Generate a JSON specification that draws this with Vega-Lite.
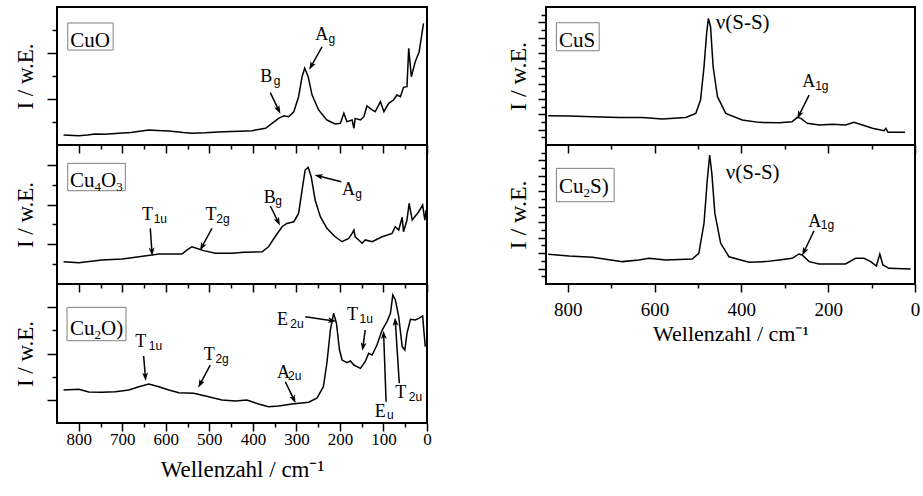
{
"$schema": "https://vega.github.io/schema/vega-lite/v6.json",
"background": "white",
"padding": {"left": 13, "top": 6, "right": 0, "bottom": 0},
"spacing": 72,
"config": {
 "view": {"stroke": "black", "strokeWidth": 2},
 "axis": {"domain": false, "grid": false, "tickColor": "black", "tickWidth": 1.5, "labelFont": "Liberation Serif", "titleFont": "Liberation Serif", "labelColor": "black", "titleColor": "black", "titleFontWeight": "normal", "labelFlush": false},
 "text": {"font": "Liberation Serif", "color": "black", "align": "left", "baseline": "alphabetic"}
},
"datasets": {
 "spec": [
  {"p":"CuO","w":835,"v":0.072},{"p":"CuO","w":800,"v":0.067},{"p":"CuO","w":780,"v":0.072},{"p":"CuO","w":762,"v":0.08},{"p":"CuO","w":740,"v":0.078},{"p":"CuO","w":708,"v":0.085},{"p":"CuO","w":680,"v":0.09},{"p":"CuO","w":660,"v":0.1},{"p":"CuO","w":639,"v":0.109},{"p":"CuO","w":620,"v":0.105},{"p":"CuO","w":593,"v":0.101},{"p":"CuO","w":560,"v":0.09},{"p":"CuO","w":540,"v":0.085},{"p":"CuO","w":510,"v":0.088},{"p":"CuO","w":479,"v":0.094},{"p":"CuO","w":450,"v":0.097},{"p":"CuO","w":430,"v":0.1},{"p":"CuO","w":402,"v":0.104},{"p":"CuO","w":371,"v":0.121},{"p":"CuO","w":356,"v":0.157},{"p":"CuO","w":341,"v":0.193},{"p":"CuO","w":329,"v":0.212},{"p":"CuO","w":318,"v":0.205},{"p":"CuO","w":306,"v":0.241},{"p":"CuO","w":295,"v":0.35},{"p":"CuO","w":287,"v":0.495},{"p":"CuO","w":281,"v":0.556},{"p":"CuO","w":273,"v":0.495},{"p":"CuO","w":264,"v":0.362},{"p":"CuO","w":249,"v":0.254},{"p":"CuO","w":230,"v":0.181},{"p":"CuO","w":211,"v":0.152},{"p":"CuO","w":199,"v":0.157},{"p":"CuO","w":191,"v":0.23},{"p":"CuO","w":184,"v":0.169},{"p":"CuO","w":172,"v":0.181},{"p":"CuO","w":168,"v":0.121},{"p":"CuO","w":165,"v":0.193},{"p":"CuO","w":153,"v":0.181},{"p":"CuO","w":145,"v":0.205},{"p":"CuO","w":138,"v":0.283},{"p":"CuO","w":126,"v":0.254},{"p":"CuO","w":119,"v":0.241},{"p":"CuO","w":107,"v":0.314},{"p":"CuO","w":99,"v":0.241},{"p":"CuO","w":88,"v":0.302},{"p":"CuO","w":77,"v":0.326},{"p":"CuO","w":69,"v":0.362},{"p":"CuO","w":61,"v":0.35},{"p":"CuO","w":54,"v":0.418},{"p":"CuO","w":46,"v":0.423},{"p":"CuO","w":42,"v":0.7},{"p":"CuO","w":36,"v":0.495},{"p":"CuO","w":27,"v":0.604},{"p":"CuO","w":18,"v":0.676},{"p":"CuO","w":8,"v":0.882},
  {"p":"Cu4O3","w":835,"v":0.16},{"p":"Cu4O3","w":800,"v":0.153},{"p":"Cu4O3","w":747,"v":0.173},{"p":"Cu4O3","w":700,"v":0.18},{"p":"Cu4O3","w":670,"v":0.192},{"p":"Cu4O3","w":632,"v":0.209},{"p":"Cu4O3","w":616,"v":0.216},{"p":"Cu4O3","w":563,"v":0.216},{"p":"Cu4O3","w":551,"v":0.245},{"p":"Cu4O3","w":540,"v":0.268},{"p":"Cu4O3","w":528,"v":0.256},{"p":"Cu4O3","w":513,"v":0.24},{"p":"Cu4O3","w":486,"v":0.221},{"p":"Cu4O3","w":448,"v":0.221},{"p":"Cu4O3","w":420,"v":0.228},{"p":"Cu4O3","w":379,"v":0.232},{"p":"Cu4O3","w":364,"v":0.268},{"p":"Cu4O3","w":349,"v":0.34},{"p":"Cu4O3","w":333,"v":0.412},{"p":"Cu4O3","w":322,"v":0.436},{"p":"Cu4O3","w":306,"v":0.448},{"p":"Cu4O3","w":295,"v":0.508},{"p":"Cu4O3","w":287,"v":0.676},{"p":"Cu4O3","w":280,"v":0.82},{"p":"Cu4O3","w":273,"v":0.839},{"p":"Cu4O3","w":266,"v":0.772},{"p":"Cu4O3","w":257,"v":0.604},{"p":"Cu4O3","w":245,"v":0.484},{"p":"Cu4O3","w":230,"v":0.4},{"p":"Cu4O3","w":211,"v":0.34},{"p":"Cu4O3","w":195,"v":0.304},{"p":"Cu4O3","w":180,"v":0.328},{"p":"Cu4O3","w":172,"v":0.364},{"p":"Cu4O3","w":168,"v":0.388},{"p":"Cu4O3","w":165,"v":0.34},{"p":"Cu4O3","w":157,"v":0.317},{"p":"Cu4O3","w":149,"v":0.293},{"p":"Cu4O3","w":142,"v":0.317},{"p":"Cu4O3","w":126,"v":0.304},{"p":"Cu4O3","w":103,"v":0.34},{"p":"Cu4O3","w":80,"v":0.364},{"p":"Cu4O3","w":73,"v":0.412},{"p":"Cu4O3","w":65,"v":0.388},{"p":"Cu4O3","w":57,"v":0.48},{"p":"Cu4O3","w":54,"v":0.376},{"p":"Cu4O3","w":46,"v":0.46},{"p":"Cu4O3","w":41,"v":0.58},{"p":"Cu4O3","w":34,"v":0.46},{"p":"Cu4O3","w":19,"v":0.52},{"p":"Cu4O3","w":10,"v":0.568},{"p":"Cu4O3","w":5,"v":0.46},{"p":"Cu4O3","w":2,"v":0.532},
  {"p":"Cu2O","w":835,"v":0.237},{"p":"Cu2O","w":800,"v":0.242},{"p":"Cu2O","w":777,"v":0.223},{"p":"Cu2O","w":747,"v":0.221},{"p":"Cu2O","w":716,"v":0.225},{"p":"Cu2O","w":685,"v":0.237},{"p":"Cu2O","w":662,"v":0.261},{"p":"Cu2O","w":639,"v":0.281},{"p":"Cu2O","w":616,"v":0.261},{"p":"Cu2O","w":593,"v":0.237},{"p":"Cu2O","w":570,"v":0.218},{"p":"Cu2O","w":536,"v":0.214},{"p":"Cu2O","w":509,"v":0.194},{"p":"Cu2O","w":471,"v":0.165},{"p":"Cu2O","w":440,"v":0.158},{"p":"Cu2O","w":414,"v":0.165},{"p":"Cu2O","w":387,"v":0.137},{"p":"Cu2O","w":364,"v":0.117},{"p":"Cu2O","w":341,"v":0.122},{"p":"Cu2O","w":310,"v":0.137},{"p":"Cu2O","w":272,"v":0.149},{"p":"Cu2O","w":253,"v":0.178},{"p":"Cu2O","w":238,"v":0.261},{"p":"Cu2O","w":230,"v":0.43},{"p":"Cu2O","w":222,"v":0.669},{"p":"Cu2O","w":214.5,"v":0.789},{"p":"Cu2O","w":208,"v":0.717},{"p":"Cu2O","w":201,"v":0.525},{"p":"Cu2O","w":195,"v":0.453},{"p":"Cu2O","w":184,"v":0.434},{"p":"Cu2O","w":176,"v":0.446},{"p":"Cu2O","w":168,"v":0.417},{"p":"Cu2O","w":153,"v":0.393},{"p":"Cu2O","w":142,"v":0.441},{"p":"Cu2O","w":134,"v":0.501},{"p":"Cu2O","w":126,"v":0.489},{"p":"Cu2O","w":115,"v":0.561},{"p":"Cu2O","w":103,"v":0.669},{"p":"Cu2O","w":92,"v":0.729},{"p":"Cu2O","w":84,"v":0.789},{"p":"Cu2O","w":78.5,"v":0.921},{"p":"Cu2O","w":72.6,"v":0.885},{"p":"Cu2O","w":65,"v":0.765},{"p":"Cu2O","w":57,"v":0.549},{"p":"Cu2O","w":51,"v":0.525},{"p":"Cu2O","w":46,"v":0.645},{"p":"Cu2O","w":38,"v":0.746},{"p":"Cu2O","w":27,"v":0.741},{"p":"Cu2O","w":19,"v":0.753},{"p":"Cu2O","w":10,"v":0.77},{"p":"Cu2O","w":8,"v":0.693},{"p":"Cu2O","w":4,"v":0.549},
  {"p":"CuS","w":845,"v":0.212},{"p":"CuS","w":797,"v":0.21},{"p":"CuS","w":743,"v":0.205},{"p":"CuS","w":682,"v":0.2},{"p":"CuS","w":628,"v":0.2},{"p":"CuS","w":582,"v":0.188},{"p":"CuS","w":528,"v":0.2},{"p":"CuS","w":505,"v":0.229},{"p":"CuS","w":494,"v":0.326},{"p":"CuS","w":486,"v":0.567},{"p":"CuS","w":480,"v":0.809},{"p":"CuS","w":476,"v":0.918},{"p":"CuS","w":471,"v":0.857},{"p":"CuS","w":465,"v":0.567},{"p":"CuS","w":455,"v":0.35},{"p":"CuS","w":436,"v":0.229},{"p":"CuS","w":398,"v":0.181},{"p":"CuS","w":359,"v":0.164},{"p":"CuS","w":313,"v":0.162},{"p":"CuS","w":283,"v":0.169},{"p":"CuS","w":271,"v":0.2},{"p":"CuS","w":263,"v":0.193},{"p":"CuS","w":248,"v":0.157},{"p":"CuS","w":221,"v":0.145},{"p":"CuS","w":190,"v":0.15},{"p":"CuS","w":160,"v":0.145},{"p":"CuS","w":140.5,"v":0.164},{"p":"CuS","w":121,"v":0.145},{"p":"CuS","w":98,"v":0.121},{"p":"CuS","w":71,"v":0.104},{"p":"CuS","w":67,"v":0.121},{"p":"CuS","w":62,"v":0.092},{"p":"CuS","w":23,"v":0.092},
  {"p":"Cu2S","w":845,"v":0.214},{"p":"Cu2S","w":797,"v":0.201},{"p":"Cu2S","w":743,"v":0.192},{"p":"Cu2S","w":674,"v":0.161},{"p":"Cu2S","w":636,"v":0.173},{"p":"Cu2S","w":613,"v":0.185},{"p":"Cu2S","w":574,"v":0.173},{"p":"Cu2S","w":513,"v":0.18},{"p":"Cu2S","w":498,"v":0.221},{"p":"Cu2S","w":486,"v":0.437},{"p":"Cu2S","w":478.5,"v":0.748},{"p":"Cu2S","w":473,"v":0.928},{"p":"Cu2S","w":468,"v":0.796},{"p":"Cu2S","w":461,"v":0.508},{"p":"Cu2S","w":447.6,"v":0.293},{"p":"Cu2S","w":428.5,"v":0.196},{"p":"Cu2S","w":382.4,"v":0.156},{"p":"Cu2S","w":344,"v":0.161},{"p":"Cu2S","w":313,"v":0.173},{"p":"Cu2S","w":283,"v":0.185},{"p":"Cu2S","w":267,"v":0.216},{"p":"Cu2S","w":260,"v":0.209},{"p":"Cu2S","w":244,"v":0.161},{"p":"Cu2S","w":221,"v":0.144},{"p":"Cu2S","w":160,"v":0.144},{"p":"Cu2S","w":137,"v":0.185},{"p":"Cu2S","w":117.5,"v":0.185},{"p":"Cu2S","w":102,"v":0.161},{"p":"Cu2S","w":89,"v":0.129},{"p":"Cu2S","w":81,"v":0.216},{"p":"Cu2S","w":74,"v":0.137},{"p":"Cu2S","w":60,"v":0.113},{"p":"Cu2S","w":10,"v":0.108}
 ],
 "box": [
  {"p":"CuO","x1":825.3,"x2":721,"y1":0.688,"y2":0.884},
  {"p":"Cu4O3","x1":825.4,"x2":693,"y1":0.671,"y2":0.868},
  {"p":"Cu2O","x1":827,"x2":691.5,"y1":0.592,"y2":0.832},
  {"p":"CuS","x1":826,"x2":727.5,"y1":0.683,"y2":0.886},
  {"p":"Cu2S","x1":826,"x2":693,"y1":0.592,"y2":0.832}
 ],
 "txt": [
  {"p":"CuO","x":819.4,"y":0.712,"t":"CuO","k":"lab"},
  {"p":"CuO","x":256.6,"y":0.761,"t":"A","k":"ann"},{"p":"CuO","x":226,"y":0.737,"t":"g","k":"sub"},
  {"p":"CuO","x":383,"y":0.459,"t":"B","k":"ann"},{"p":"CuO","x":352,"y":0.435,"t":"g","k":"sub"},
  {"p":"Cu4O3","x":820.1,"y":0.7,"t":"Cu","k":"lab"},{"p":"Cu4O3","x":763.9,"y":0.671,"t":"4","k":"labsub"},{"p":"Cu4O3","x":748.9,"y":0.7,"t":"O","k":"lab"},{"p":"Cu4O3","x":714,"y":0.671,"t":"3","k":"labsub"},
  {"p":"Cu4O3","x":654.7,"y":0.46,"t":"T","k":"ann"},{"p":"Cu4O3","x":628,"y":0.441,"t":"1u","k":"sub"},
  {"p":"Cu4O3","x":509,"y":0.46,"t":"T","k":"ann"},{"p":"Cu4O3","x":484,"y":0.441,"t":"2g","k":"sub"},
  {"p":"Cu4O3","x":375,"y":0.58,"t":"B","k":"ann"},{"p":"Cu4O3","x":348.5,"y":0.568,"t":"g","k":"sub"},
  {"p":"Cu4O3","x":195,"y":0.64,"t":"A","k":"ann"},{"p":"Cu4O3","x":165,"y":0.616,"t":"g","k":"sub"},
  {"p":"Cu2O","x":820.1,"y":0.633,"t":"Cu","k":"lab"},{"p":"Cu2O","x":763.9,"y":0.604,"t":"2","k":"labsub"},{"p":"Cu2O","x":748.9,"y":0.633,"t":"O)","k":"lab"},
  {"p":"Cu2O","x":670,"y":0.549,"t":"T","k":"ann"},{"p":"Cu2O","x":639,"y":0.525,"t":"1u","k":"sub"},
  {"p":"Cu2O","x":513,"y":0.453,"t":"T","k":"ann"},{"p":"Cu2O","x":486,"y":0.429,"t":"2g","k":"sub"},
  {"p":"Cu2O","x":344.6,"y":0.322,"t":"A","k":"ann"},{"p":"Cu2O","x":319.3,"y":0.309,"t":"2u","k":"sub"},
  {"p":"Cu2O","x":344.6,"y":0.705,"t":"E","k":"ann"},{"p":"Cu2O","x":314,"y":0.681,"t":"2u","k":"sub"},
  {"p":"Cu2O","x":184,"y":0.741,"t":"T","k":"ann"},{"p":"Cu2O","x":155,"y":0.717,"t":"1u","k":"sub"},
  {"p":"Cu2O","x":120,"y":0.045,"t":"E","k":"ann"},{"p":"Cu2O","x":92,"y":0.027,"t":"u","k":"sub"},
  {"p":"Cu2O","x":72.8,"y":0.178,"t":"T","k":"ann"},{"p":"Cu2O","x":42,"y":0.16,"t":"2u","k":"sub"},
  {"p":"CuS","x":820.1,"y":0.712,"t":"CuS","k":"lab"},
  {"p":"CuS","x":459,"y":0.838,"t":"ν(S-S)","k":"lab"},
  {"p":"CuS","x":259.6,"y":0.423,"t":"A","k":"ann"},{"p":"CuS","x":230,"y":0.399,"t":"1g","k":"sub"},
  {"p":"Cu2S","x":820.1,"y":0.657,"t":"Cu","k":"lab"},{"p":"Cu2S","x":763.6,"y":0.628,"t":"2","k":"labsub"},{"p":"Cu2S","x":748.6,"y":0.657,"t":"S)","k":"lab"},
  {"p":"Cu2S","x":436,"y":0.753,"t":"ν(S-S)","k":"lab"},
  {"p":"Cu2S","x":245.8,"y":0.412,"t":"A","k":"ann"},{"p":"Cu2S","x":217,"y":0.393,"t":"1g","k":"sub"}
 ],
 "arr": [
  {"p":"CuO","x":241,"y":0.712,"x2":266,"y2":0.572,"a":209},
  {"p":"CuO","x":360,"y":0.379,"x2":341,"y2":0.254,"a":154},
  {"p":"Cu4O3","x":635.7,"y":0.4,"x2":632,"y2":0.232,"a":176},
  {"p":"Cu4O3","x":494,"y":0.4,"x2":517,"y2":0.268,"a":208.5},
  {"p":"Cu4O3","x":360,"y":0.561,"x2":342,"y2":0.448,"a":154},
  {"p":"Cu4O3","x":197,"y":0.736,"x2":249,"y2":0.777,"a":284},
  {"p":"Cu2O","x":651,"y":0.482,"x2":647,"y2":0.333,"a":176},
  {"p":"Cu2O","x":498,"y":0.417,"x2":521,"y2":0.281,"a":208},
  {"p":"Cu2O","x":325.5,"y":0.297,"x2":306,"y2":0.17,"a":154.5},
  {"p":"Cu2O","x":279.6,"y":0.765,"x2":218,"y2":0.736,"a":98.5},
  {"p":"Cu2O","x":142,"y":0.669,"x2":147,"y2":0.549,"a":188},
  {"p":"Cu2O","x":94,"y":0.153,"x2":99.5,"y2":0.633,"a":358},
  {"p":"Cu2O","x":63.6,"y":0.286,"x2":72.8,"y2":0.729,"a":356},
  {"p":"CuS","x":244,"y":0.362,"x2":267,"y2":0.217,"a":206.6},
  {"p":"Cu2S","x":232.6,"y":0.383,"x2":255.7,"y2":0.232,"a":205.5}
 ]
},
"hconcat": [
 {"vconcat": [
  {"width": 370, "height": 138,
   "layer": [
    {"data": {"name": "spec"}, "transform": [{"filter": "datum.p==='CuO'"}], "mark": {"type": "line", "color": "black", "strokeWidth": 1.5},
     "encoding": {"x": {"field": "w", "type": "quantitative", "scale": {"domain": [0, 850], "reverse": true, "nice": false, "zero": false}, "axis": {"orient": "bottom", "values": [0,100,200,300,400,500,600,700,800], "tickSize": 8, "labels": false, "title": null}},
                  "y": {"field": "v", "type": "quantitative", "scale": {"domain": [0, 1], "nice": false, "zero": false}, "axis": {"orient": "left", "values": [0.3333, 0.6667], "tickSize": 10, "labels": false, "title": "I / w.E.", "titleFont": "Liberation Serif", "titleFontSize": 23, "titlePadding": 8.5}}}},
    {"data": {"name": "box"}, "transform": [{"filter": "datum.p==='CuO'"}], "mark": {"type": "rect", "fill": "white", "stroke": "#808080", "strokeWidth": 1},
     "encoding": {"x": {"field": "x1", "type": "quantitative", "axis": {"orient": "bottom", "values": [50,150,250,350,450,550,650,750], "tickSize": 4, "labels": false, "title": null}}, "x2": {"field": "x2"},
                  "y": {"field": "y1", "type": "quantitative", "axis": {"orient": "left", "values": [0.1667, 0.5, 0.8333], "tickSize": 5, "labels": false, "title": null}}, "y2": {"field": "y2"}}},
    {"data": {"name": "txt"}, "transform": [{"filter": "datum.p==='CuO' && datum.k==='lab'"}], "mark": {"type": "text", "fontSize": 21},
     "encoding": {"x": {"field": "x", "type": "quantitative", "axis": null}, "y": {"field": "y", "type": "quantitative", "axis": null}, "text": {"field": "t"}}},
    {"data": {"name": "txt"}, "transform": [{"filter": "datum.p==='CuO' && datum.k==='ann'"}], "mark": {"type": "text", "fontSize": 18},
     "encoding": {"x": {"field": "x", "type": "quantitative", "axis": null}, "y": {"field": "y", "type": "quantitative", "axis": null}, "text": {"field": "t"}}},
    {"data": {"name": "txt"}, "transform": [{"filter": "datum.p==='CuO' && datum.k==='sub'"}], "mark": {"type": "text", "font": "Liberation Sans", "fontSize": 12},
     "encoding": {"x": {"field": "x", "type": "quantitative", "axis": null}, "y": {"field": "y", "type": "quantitative", "axis": null}, "text": {"field": "t"}}},
    {"data": {"name": "arr"}, "transform": [{"filter": "datum.p==='CuO'"}], "mark": {"type": "rule", "color": "black", "strokeWidth": 1.5},
     "encoding": {"x": {"field": "x", "type": "quantitative", "axis": null}, "y": {"field": "y", "type": "quantitative", "axis": null}, "x2": {"field": "x2"}, "y2": {"field": "y2"}}},
    {"data": {"name": "arr"}, "transform": [{"filter": "datum.p==='CuO'"}], "mark": {"type": "point", "shape": "M0,-1L0.7,1L0,0.5L-0.7,1Z", "filled": true, "color": "black", "opacity": 1, "size": 70},
     "encoding": {"x": {"field": "x2", "type": "quantitative", "axis": null}, "y": {"field": "y2", "type": "quantitative", "axis": null}, "angle": {"field": "a", "type": "quantitative", "scale": null}}}
   ],
   "resolve": {"axis": {"x": "independent", "y": "independent"}}
  },
  {"width": 370, "height": 139,
   "layer": [
    {"data": {"name": "spec"}, "transform": [{"filter": "datum.p==='Cu4O3'"}], "mark": {"type": "line", "color": "black", "strokeWidth": 1.5},
     "encoding": {"x": {"field": "w", "type": "quantitative", "scale": {"domain": [0, 850], "reverse": true, "nice": false, "zero": false}, "axis": {"orient": "bottom", "values": [0,100,200,300,400,500,600,700,800], "tickSize": 8, "labels": false, "title": null}},
                  "y": {"field": "v", "type": "quantitative", "scale": {"domain": [0, 1], "nice": false, "zero": false}, "axis": {"orient": "left", "values": [0.2857, 0.5714, 0.8571], "tickSize": 10, "labels": false, "title": "I / w.E.", "titleFont": "Liberation Serif", "titleFontSize": 23, "titlePadding": 8.5}}}},
    {"data": {"name": "box"}, "transform": [{"filter": "datum.p==='Cu4O3'"}], "mark": {"type": "rect", "fill": "white", "stroke": "#808080", "strokeWidth": 1},
     "encoding": {"x": {"field": "x1", "type": "quantitative", "axis": {"orient": "bottom", "values": [50,150,250,350,450,550,650,750], "tickSize": 4, "labels": false, "title": null}}, "x2": {"field": "x2"},
                  "y": {"field": "y1", "type": "quantitative", "axis": {"orient": "left", "values": [0.1429, 0.4286, 0.7143], "tickSize": 5, "labels": false, "title": null}}, "y2": {"field": "y2"}}},
    {"data": {"name": "txt"}, "transform": [{"filter": "datum.p==='Cu4O3' && datum.k==='lab'"}], "mark": {"type": "text", "fontSize": 21},
     "encoding": {"x": {"field": "x", "type": "quantitative", "axis": null}, "y": {"field": "y", "type": "quantitative", "axis": null}, "text": {"field": "t"}}},
    {"data": {"name": "txt"}, "transform": [{"filter": "datum.p==='Cu4O3' && datum.k==='labsub'"}], "mark": {"type": "text", "fontSize": 13},
     "encoding": {"x": {"field": "x", "type": "quantitative", "axis": null}, "y": {"field": "y", "type": "quantitative", "axis": null}, "text": {"field": "t"}}},
    {"data": {"name": "txt"}, "transform": [{"filter": "datum.p==='Cu4O3' && datum.k==='ann'"}], "mark": {"type": "text", "fontSize": 18},
     "encoding": {"x": {"field": "x", "type": "quantitative", "axis": null}, "y": {"field": "y", "type": "quantitative", "axis": null}, "text": {"field": "t"}}},
    {"data": {"name": "txt"}, "transform": [{"filter": "datum.p==='Cu4O3' && datum.k==='sub'"}], "mark": {"type": "text", "font": "Liberation Sans", "fontSize": 12},
     "encoding": {"x": {"field": "x", "type": "quantitative", "axis": null}, "y": {"field": "y", "type": "quantitative", "axis": null}, "text": {"field": "t"}}},
    {"data": {"name": "arr"}, "transform": [{"filter": "datum.p==='Cu4O3'"}], "mark": {"type": "rule", "color": "black", "strokeWidth": 1.5},
     "encoding": {"x": {"field": "x", "type": "quantitative", "axis": null}, "y": {"field": "y", "type": "quantitative", "axis": null}, "x2": {"field": "x2"}, "y2": {"field": "y2"}}},
    {"data": {"name": "arr"}, "transform": [{"filter": "datum.p==='Cu4O3'"}], "mark": {"type": "point", "shape": "M0,-1L0.7,1L0,0.5L-0.7,1Z", "filled": true, "color": "black", "opacity": 1, "size": 70},
     "encoding": {"x": {"field": "x2", "type": "quantitative", "axis": null}, "y": {"field": "y2", "type": "quantitative", "axis": null}, "angle": {"field": "a", "type": "quantitative", "scale": null}}}
   ],
   "resolve": {"axis": {"x": "independent", "y": "independent"}}
  },
  {"width": 370, "height": 139,
   "layer": [
    {"data": {"name": "spec"}, "transform": [{"filter": "datum.p==='Cu2O'"}], "mark": {"type": "line", "color": "black", "strokeWidth": 1.5},
     "encoding": {"x": {"field": "w", "type": "quantitative", "scale": {"domain": [0, 850], "reverse": true, "nice": false, "zero": false}, "axis": {"orient": "bottom", "values": [0,100,200,300,400,500,600,700,800], "tickSize": 8, "labelFontSize": 17, "labelPadding": 0, "title": "Wellenzahl / cm⁻¹", "titleFont": "Liberation Serif", "titleFontSize": 23, "titlePadding": 11}},
                  "y": {"field": "v", "type": "quantitative", "scale": {"domain": [0, 1], "nice": false, "zero": false}, "axis": {"orient": "left", "values": [0.1667, 0.5, 0.8333], "tickSize": 10, "labels": false, "title": "I / w.E.", "titleFont": "Liberation Serif", "titleFontSize": 23, "titlePadding": 8.5}}}},
    {"data": {"name": "box"}, "transform": [{"filter": "datum.p==='Cu2O'"}], "mark": {"type": "rect", "fill": "white", "stroke": "#808080", "strokeWidth": 1},
     "encoding": {"x": {"field": "x1", "type": "quantitative", "axis": {"orient": "bottom", "values": [50,150,250,350,450,550,650,750], "tickSize": 4, "labels": false, "title": null}}, "x2": {"field": "x2"},
                  "y": {"field": "y1", "type": "quantitative", "axis": {"orient": "left", "values": [0.3333, 0.6667], "tickSize": 5, "labels": false, "title": null}}, "y2": {"field": "y2"}}},
    {"data": {"name": "txt"}, "transform": [{"filter": "datum.p==='Cu2O' && datum.k==='lab'"}], "mark": {"type": "text", "fontSize": 21},
     "encoding": {"x": {"field": "x", "type": "quantitative", "axis": null}, "y": {"field": "y", "type": "quantitative", "axis": null}, "text": {"field": "t"}}},
    {"data": {"name": "txt"}, "transform": [{"filter": "datum.p==='Cu2O' && datum.k==='labsub'"}], "mark": {"type": "text", "fontSize": 13},
     "encoding": {"x": {"field": "x", "type": "quantitative", "axis": null}, "y": {"field": "y", "type": "quantitative", "axis": null}, "text": {"field": "t"}}},
    {"data": {"name": "txt"}, "transform": [{"filter": "datum.p==='Cu2O' && datum.k==='ann'"}], "mark": {"type": "text", "fontSize": 18},
     "encoding": {"x": {"field": "x", "type": "quantitative", "axis": null}, "y": {"field": "y", "type": "quantitative", "axis": null}, "text": {"field": "t"}}},
    {"data": {"name": "txt"}, "transform": [{"filter": "datum.p==='Cu2O' && datum.k==='sub'"}], "mark": {"type": "text", "font": "Liberation Sans", "fontSize": 12},
     "encoding": {"x": {"field": "x", "type": "quantitative", "axis": null}, "y": {"field": "y", "type": "quantitative", "axis": null}, "text": {"field": "t"}}},
    {"data": {"name": "arr"}, "transform": [{"filter": "datum.p==='Cu2O'"}], "mark": {"type": "rule", "color": "black", "strokeWidth": 1.5},
     "encoding": {"x": {"field": "x", "type": "quantitative", "axis": null}, "y": {"field": "y", "type": "quantitative", "axis": null}, "x2": {"field": "x2"}, "y2": {"field": "y2"}}},
    {"data": {"name": "arr"}, "transform": [{"filter": "datum.p==='Cu2O'"}], "mark": {"type": "point", "shape": "M0,-1L0.7,1L0,0.5L-0.7,1Z", "filled": true, "color": "black", "opacity": 1, "size": 70},
     "encoding": {"x": {"field": "x2", "type": "quantitative", "axis": null}, "y": {"field": "y2", "type": "quantitative", "axis": null}, "angle": {"field": "a", "type": "quantitative", "scale": null}}}
   ],
   "resolve": {"axis": {"x": "independent", "y": "independent"}}
  }
 ], "spacing": 0, "bounds": "flush"},
 {"vconcat": [
  {"width": 369, "height": 138,
   "layer": [
    {"data": {"name": "spec"}, "transform": [{"filter": "datum.p==='CuS'"}], "mark": {"type": "line", "color": "black", "strokeWidth": 1.5},
     "encoding": {"x": {"field": "w", "type": "quantitative", "scale": {"domain": [0, 850], "reverse": true, "nice": false, "zero": false}, "axis": {"orient": "bottom", "values": [0,200,400,600,800], "tickSize": 8, "labels": false, "title": null}},
                  "y": {"field": "v", "type": "quantitative", "scale": {"domain": [0, 1], "nice": false, "zero": false}, "axis": {"orient": "left", "values": [0.1111,0.2222,0.3333,0.4444,0.5556,0.6667,0.7778,0.8889], "tickSize": 8, "labels": false, "title": "I / w.E.", "titleFont": "Liberation Serif", "titleFontSize": 24, "titlePadding": 7}}}},
    {"data": {"name": "box"}, "transform": [{"filter": "datum.p==='CuS'"}], "mark": {"type": "rect", "fill": "white", "stroke": "#808080", "strokeWidth": 1},
     "encoding": {"x": {"field": "x1", "type": "quantitative", "axis": {"orient": "bottom", "values": [100,300,500,700], "tickSize": 4, "labels": false, "title": null}}, "x2": {"field": "x2"},
                  "y": {"field": "y1", "type": "quantitative", "axis": {"orient": "left", "values": [0.0556,0.1667,0.2778,0.3889,0.5,0.6111,0.7222,0.8333,0.9444], "tickSize": 5, "labels": false, "title": null}}, "y2": {"field": "y2"}}},
    {"data": {"name": "txt"}, "transform": [{"filter": "datum.p==='CuS' && datum.k==='lab'"}], "mark": {"type": "text", "fontSize": 21},
     "encoding": {"x": {"field": "x", "type": "quantitative", "axis": null}, "y": {"field": "y", "type": "quantitative", "axis": null}, "text": {"field": "t"}}},
    {"data": {"name": "txt"}, "transform": [{"filter": "datum.p==='CuS' && datum.k==='ann'"}], "mark": {"type": "text", "fontSize": 18},
     "encoding": {"x": {"field": "x", "type": "quantitative", "axis": null}, "y": {"field": "y", "type": "quantitative", "axis": null}, "text": {"field": "t"}}},
    {"data": {"name": "txt"}, "transform": [{"filter": "datum.p==='CuS' && datum.k==='sub'"}], "mark": {"type": "text", "font": "Liberation Sans", "fontSize": 12},
     "encoding": {"x": {"field": "x", "type": "quantitative", "axis": null}, "y": {"field": "y", "type": "quantitative", "axis": null}, "text": {"field": "t"}}},
    {"data": {"name": "arr"}, "transform": [{"filter": "datum.p==='CuS'"}], "mark": {"type": "rule", "color": "black", "strokeWidth": 1.5},
     "encoding": {"x": {"field": "x", "type": "quantitative", "axis": null}, "y": {"field": "y", "type": "quantitative", "axis": null}, "x2": {"field": "x2"}, "y2": {"field": "y2"}}},
    {"data": {"name": "arr"}, "transform": [{"filter": "datum.p==='CuS'"}], "mark": {"type": "point", "shape": "M0,-1L0.7,1L0,0.5L-0.7,1Z", "filled": true, "color": "black", "opacity": 1, "size": 70},
     "encoding": {"x": {"field": "x2", "type": "quantitative", "axis": null}, "y": {"field": "y2", "type": "quantitative", "axis": null}, "angle": {"field": "a", "type": "quantitative", "scale": null}}}
   ],
   "resolve": {"axis": {"x": "independent", "y": "independent"}}
  },
  {"width": 369, "height": 139,
   "layer": [
    {"data": {"name": "spec"}, "transform": [{"filter": "datum.p==='Cu2S'"}], "mark": {"type": "line", "color": "black", "strokeWidth": 1.5},
     "encoding": {"x": {"field": "w", "type": "quantitative", "scale": {"domain": [0, 850], "reverse": true, "nice": false, "zero": false}, "axis": {"orient": "bottom", "values": [0,200,400,600,800], "tickSize": 8, "labelFontSize": 19, "labelPadding": 8, "title": "Wellenzahl / cm⁻¹", "titleFont": "Liberation Serif", "titleFontSize": 22, "titlePadding": 4}},
                  "y": {"field": "v", "type": "quantitative", "scale": {"domain": [0, 1], "nice": false, "zero": false}, "axis": {"orient": "left", "values": [0.1111,0.2222,0.3333,0.4444,0.5556,0.6667,0.7778,0.8889], "tickSize": 8, "labels": false, "title": "I / w.E.", "titleFont": "Liberation Serif", "titleFontSize": 24, "titlePadding": 7}}}},
    {"data": {"name": "box"}, "transform": [{"filter": "datum.p==='Cu2S'"}], "mark": {"type": "rect", "fill": "white", "stroke": "#808080", "strokeWidth": 1},
     "encoding": {"x": {"field": "x1", "type": "quantitative", "axis": {"orient": "bottom", "values": [100,300,500,700], "tickSize": 4, "labels": false, "title": null}}, "x2": {"field": "x2"},
                  "y": {"field": "y1", "type": "quantitative", "axis": {"orient": "left", "values": [0.0556,0.1667,0.2778,0.3889,0.5,0.6111,0.7222,0.8333,0.9444], "tickSize": 5, "labels": false, "title": null}}, "y2": {"field": "y2"}}},
    {"data": {"name": "txt"}, "transform": [{"filter": "datum.p==='Cu2S' && datum.k==='lab'"}], "mark": {"type": "text", "fontSize": 21},
     "encoding": {"x": {"field": "x", "type": "quantitative", "axis": null}, "y": {"field": "y", "type": "quantitative", "axis": null}, "text": {"field": "t"}}},
    {"data": {"name": "txt"}, "transform": [{"filter": "datum.p==='Cu2S' && datum.k==='labsub'"}], "mark": {"type": "text", "fontSize": 13},
     "encoding": {"x": {"field": "x", "type": "quantitative", "axis": null}, "y": {"field": "y", "type": "quantitative", "axis": null}, "text": {"field": "t"}}},
    {"data": {"name": "txt"}, "transform": [{"filter": "datum.p==='Cu2S' && datum.k==='ann'"}], "mark": {"type": "text", "fontSize": 18},
     "encoding": {"x": {"field": "x", "type": "quantitative", "axis": null}, "y": {"field": "y", "type": "quantitative", "axis": null}, "text": {"field": "t"}}},
    {"data": {"name": "txt"}, "transform": [{"filter": "datum.p==='Cu2S' && datum.k==='sub'"}], "mark": {"type": "text", "font": "Liberation Sans", "fontSize": 12},
     "encoding": {"x": {"field": "x", "type": "quantitative", "axis": null}, "y": {"field": "y", "type": "quantitative", "axis": null}, "text": {"field": "t"}}},
    {"data": {"name": "arr"}, "transform": [{"filter": "datum.p==='Cu2S'"}], "mark": {"type": "rule", "color": "black", "strokeWidth": 1.5},
     "encoding": {"x": {"field": "x", "type": "quantitative", "axis": null}, "y": {"field": "y", "type": "quantitative", "axis": null}, "x2": {"field": "x2"}, "y2": {"field": "y2"}}},
    {"data": {"name": "arr"}, "transform": [{"filter": "datum.p==='Cu2S'"}], "mark": {"type": "point", "shape": "M0,-1L0.7,1L0,0.5L-0.7,1Z", "filled": true, "color": "black", "opacity": 1, "size": 70},
     "encoding": {"x": {"field": "x2", "type": "quantitative", "axis": null}, "y": {"field": "y2", "type": "quantitative", "axis": null}, "angle": {"field": "a", "type": "quantitative", "scale": null}}}
   ],
   "resolve": {"axis": {"x": "independent", "y": "independent"}}
  }
 ], "spacing": 0, "bounds": "flush"}
]
}
